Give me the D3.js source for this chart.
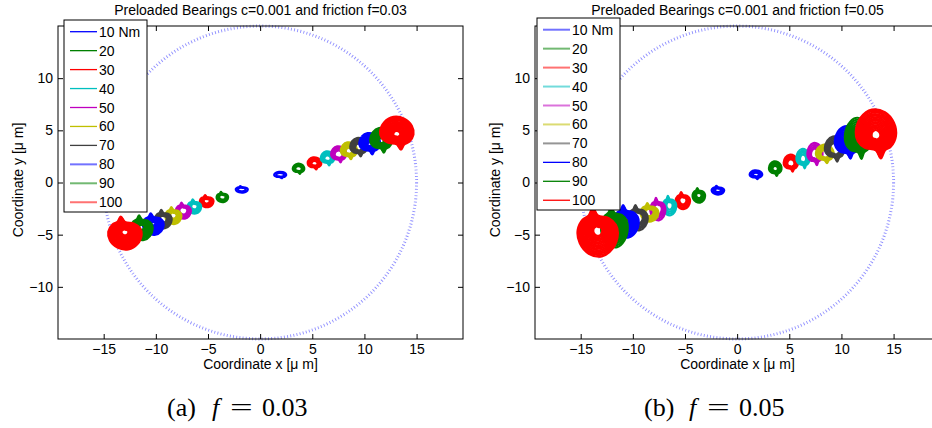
<!DOCTYPE html>
<html>
<head>
<meta charset="utf-8">
<script src="https://cdn.jsdelivr.net/npm/d3@7"></script>
<style>
  body { margin: 0; background: #fff; }
  text { font-family: "Liberation Sans", Arial, sans-serif; }
</style>
</head>
<body>
<div id="chart"></div>
<script>
// data
const torques = ["10 Nm", "20", "30", "40", "50", "60", "70", "80", "90", "100"];
const seriesColors = ["#0000ff", "#008000", "#ff0000", "#00bfbf", "#bf00bf", "#bfbf00", "#404040", "#0000ff", "#008000", "#ff0000"];
const xTicks = [-15, -10, -5, 0, 5, 10, 15];
const yTicks = [-10, -5, 0, 5, 10];
const clearanceRadius = 15;

// orbit outline (unit shape)
const orbitShape = [[-1, 0.15], [-0.75, 0.7], [-0.2, 1], [0.45, 0.9], [0.9, 0.5], [1, 0], [0.75, -0.4],
                    [0.45, -0.55], [0.25, -0.85], [0.0, -0.55], [-0.55, -0.45], [-0.9, -0.2]];

// f = 0.03
const a_cxUp  = [1.92, 3.68, 5.21, 6.46, 7.53, 8.51, 9.44, 10.5, 11.6, 13.1];
const a_cyUp  = [0.69, 1.27, 1.78, 2.26, 2.63, 2.97, 3.31, 3.63, 3.94, 4.59];
const a_cxLow = [-1.76, -3.62, -5.12, -6.3, -7.36, -8.32, -9.28, -10.24, -11.35, -12.96];
const a_cyLow = [-0.63, -1.35, -1.73, -2.24, -2.63, -3.1, -3.43, -3.9, -4.23, -4.71];
const a_w     = [1.15, 1.1, 1.3, 1.3, 1.45, 1.55, 1.6, 2.0, 2.1, 3.2];
const a_h     = [0.67, 1.05, 1.25, 1.45, 1.65, 1.75, 1.9, 2.2, 2.55, 3.4];

// f = 0.05
const b_cxUp  = [1.8, 3.65, 5.15, 6.32, 7.46, 8.4, 9.36, 10.56, 11.6, 13.3];
const b_cyUp  = [0.71, 1.27, 1.78, 2.21, 2.63, 2.66, 3.11, 3.7, 4.06, 4.46];
const b_cxLow = [-1.84, -3.67, -5.2, -6.48, -7.6, -8.4, -9.52, -10.63, -11.76, -13.36];
const b_cyLow = [-0.7, -1.18, -1.66, -2.14, -2.46, -2.79, -3.27, -3.59, -4.07, -4.55];
const b_w     = [1.2, 1.2, 1.37, 1.28, 1.45, 1.7, 1.9, 2.4, 2.55, 3.85];
const b_h     = [0.9, 1.5, 1.75, 2.0, 2.3, 1.9, 2.6, 3.35, 4.25, 5.05];

const svg = d3.select("#chart").append("svg").attr("width", 932).attr("height", 428)
  .style("background", "#fff");

function panel(cfg) {
  const left = cfg.left, top = 26, width = 405, height = 313;
  const x = d3.scaleLinear().domain([-19.38, 19.45]).range([left, left + width]);
  const y = d3.scaleLinear().domain([-15, 15]).range([top + height, top]);
  const g = svg.append("g");

  // clearance circle
  g.append("circle").attr("cx", x(0)).attr("cy", y(0)).attr("r", x(clearanceRadius) - x(0))
   .attr("fill", "none").attr("stroke", "#7a7aff").attr("stroke-width", 3)
   .attr("stroke-dasharray", "0.9 2.3").attr("opacity", 0.85);

  // orbits
  const line = d3.line().curve(d3.curveCatmullRomClosed);
  const pxPerUnit = x(1) - x(0);
  torques.forEach((t, i) => {
    [[cfg.cxUp[i], cfg.cyUp[i], 1], [cfg.cxLow[i], cfg.cyLow[i], -1]].forEach(([cx, cy, sgn]) => {
      const rpx = Math.min(cfg.w[i], cfg.h[i]) * pxPerUnit / 2;
      const step = 1.2 / rpx;
      const inner = rpx > 10 ? 0.18 : 0.4;
      for (let s = 1; s >= inner; s -= step) {
        const pts = orbitShape.map(p => [x(cx + sgn * s * p[0] * cfg.w[i] / 2), y(cy + sgn * s * p[1] * cfg.h[i] / 2)]);
        g.append("path").attr("d", line(pts)).attr("fill", "none")
         .attr("stroke", seriesColors[i]).attr("stroke-width", 2.2).attr("stroke-linejoin", "round");
      }
    });
  });

  // axes
  g.append("g").attr("transform", `translate(0,${top + height})`)
   .call(d3.axisBottom(x).tickValues(xTicks).tickSizeInner(-5).tickSizeOuter(0).tickPadding(5))
   .call(a => a.select(".domain").remove())
   .call(a => a.selectAll("text").style("font-size", "14px").style("font-family", "Liberation Sans, Arial"));
  g.append("g").attr("transform", `translate(0,${top})`)
   .call(d3.axisTop(x).tickValues(xTicks).tickSizeInner(-5).tickSizeOuter(0).tickFormat(""))
   .call(a => a.select(".domain").remove());
  g.append("g").attr("transform", `translate(${left},0)`)
   .call(d3.axisLeft(y).tickValues(yTicks).tickSizeInner(-5).tickSizeOuter(0).tickPadding(5))
   .call(a => a.select(".domain").remove())
   .call(a => a.selectAll("text").style("font-size", "14px").style("font-family", "Liberation Sans, Arial"));
  g.append("g").attr("transform", `translate(${left + width},0)`)
   .call(d3.axisRight(y).tickValues(yTicks).tickSizeInner(-5).tickSizeOuter(0).tickFormat(""))
   .call(a => a.select(".domain").remove());
  g.append("rect").attr("x", left).attr("y", top).attr("width", width).attr("height", height)
   .attr("fill", "none").attr("stroke", "#000").attr("stroke-width", 1);

  // labels
  g.append("text").attr("x", left + width / 2).attr("y", 15).attr("text-anchor", "middle")
   .style("font-size", "14px").text(cfg.title);
  g.append("text").attr("x", left + width / 2).attr("y", 369).attr("text-anchor", "middle")
   .style("font-size", "14px").text("Coordinate x [\u03bc m]");
  g.append("text").attr("transform", `translate(${left - 35},180) rotate(-90)`).attr("text-anchor", "middle")
   .style("font-size", "14px").text("Coordinate y [\u03bc m]");

  // legend
  const lx = cfg.legendX, ly = cfg.legendY;
  g.append("rect").attr("x", lx).attr("y", ly).attr("width", 83).attr("height", 192)
   .attr("fill", "#fff").attr("stroke", "#000").attr("stroke-width", 1);
  torques.forEach((t, i) => {
    const yy = ly + 11.7 + i * 18.95;
    const light = cfg.lightLegend.includes(i);
    g.append("line").attr("x1", lx + 6).attr("x2", lx + 33).attr("y1", yy).attr("y2", yy)
     .attr("stroke", seriesColors[i]).attr("stroke-width", light ? 2 : 1.3).attr("opacity", light ? 0.55 : 1);
    g.append("text").attr("x", lx + 35).attr("y", yy).attr("dy", "0.36em")
     .style("font-size", "14px").text(t);
  });

  // caption
  const capFont = "Liberation Serif, Times New Roman, serif";
  g.append("text").attr("x", cfg.capX).attr("y", 416).style("font-family", capFont)
   .style("font-size", "26px").text(`(${cfg.letter})`);
  g.append("text").attr("x", cfg.capX + 45).attr("y", 416).style("font-family", capFont)
   .style("font-size", "26px").style("font-style", "italic").text("f");
  g.append("text").attr("transform", `translate(${cfg.capX + 63},416) scale(1.55,1)`)
   .style("font-family", capFont).style("font-size", "26px").text("=");
  g.append("text").attr("x", cfg.capX + 95).attr("y", 416).style("font-family", capFont)
   .style("font-size", "26px").text(cfg.fval);
}

panel({left: 58, title: "Preloaded Bearings c=0.001 and friction f=0.03", letter: "a", fval: "0.03",
       cxUp: a_cxUp, cyUp: a_cyUp, cxLow: a_cxLow, cyLow: a_cyLow, w: a_w, h: a_h,
       legendX: 64, legendY: 20, lightLegend: [7, 8, 9], capX: 167});
panel({left: 535, title: "Preloaded Bearings c=0.001 and friction f=0.05", letter: "b", fval: "0.05",
       cxUp: b_cxUp, cyUp: b_cyUp, cxLow: b_cxLow, cyLow: b_cyLow, w: b_w, h: b_h,
       legendX: 537, legendY: 18, lightLegend: [0, 1, 2, 3, 4, 5, 6], capX: 644});
</script>
</body>
</html>
